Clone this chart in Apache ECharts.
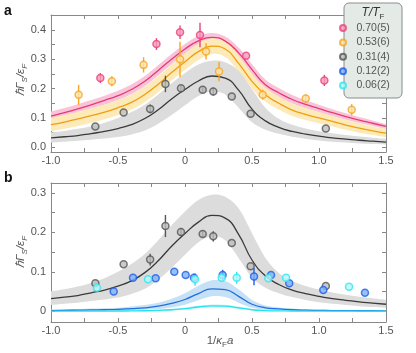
<!DOCTYPE html>
<html lang="en">
<head>
<meta charset="UTF-8">
<title>Gamma_S vs 1/kFa</title>
<style>
  html, body { margin: 0; padding: 0; background: #fff; }
  #chart { width: 416px; height: 353px; }
</style>
</head>
<body>
<div id="chart"></div>
<script src="https://cdn.jsdelivr.net/npm/echarts/dist/echarts.min.js"></script>
<script>
// ---------------- data ----------------
var curveX = [-1.0, -0.9, -0.8, -0.7, -0.6, -0.5, -0.4, -0.3, -0.2, -0.1, 0.0, 0.1, 0.2,
              0.3, 0.4, 0.5, 0.6, 0.7, 0.8, 0.9, 1.0, 1.1, 1.2, 1.3, 1.4, 1.5];

// theory curves + bands (T/TF = 0.70, 0.53, 0.31, 0.12, 0.06)
var pinkLine = [0.106, 0.118, 0.131, 0.145, 0.160, 0.176, 0.197, 0.225, 0.262, 0.300, 0.335, 0.363, 0.375,
                0.362, 0.322, 0.265, 0.213, 0.186, 0.163, 0.146, 0.132, 0.118, 0.105, 0.093, 0.082, 0.071];
var pinkHi   = [0.122, 0.134, 0.147, 0.161, 0.176, 0.193, 0.214, 0.243, 0.280, 0.318, 0.352, 0.379, 0.390,
                0.378, 0.340, 0.283, 0.231, 0.202, 0.178, 0.160, 0.145, 0.130, 0.116, 0.103, 0.091, 0.079];
var pinkLo   = [0.092, 0.104, 0.116, 0.130, 0.145, 0.160, 0.181, 0.208, 0.245, 0.283, 0.319, 0.348, 0.360,
                0.347, 0.306, 0.248, 0.197, 0.171, 0.149, 0.133, 0.119, 0.106, 0.094, 0.083, 0.073, 0.063];

var orangeLine = [0.077, 0.086, 0.097, 0.108, 0.120, 0.135, 0.153, 0.180, 0.215, 0.255, 0.292, 0.326, 0.345,
                  0.335, 0.286, 0.225, 0.179, 0.150, 0.127, 0.112, 0.100, 0.088, 0.076, 0.065, 0.056, 0.048];
var orangeHi   = [0.100, 0.110, 0.121, 0.133, 0.145, 0.160, 0.179, 0.206, 0.242, 0.282, 0.320, 0.354, 0.372,
                  0.362, 0.313, 0.251, 0.203, 0.173, 0.149, 0.133, 0.120, 0.107, 0.094, 0.082, 0.071, 0.062];
var orangeLo   = [0.055, 0.063, 0.073, 0.084, 0.096, 0.110, 0.128, 0.154, 0.188, 0.228, 0.264, 0.298, 0.318,
                  0.308, 0.259, 0.200, 0.156, 0.128, 0.107, 0.093, 0.082, 0.071, 0.060, 0.050, 0.042, 0.035];

var grayLine = [0.032, 0.036, 0.040, 0.047, 0.054, 0.064, 0.077, 0.098, 0.128, 0.165, 0.197, 0.226, 0.243,
                0.236, 0.195, 0.130, 0.090, 0.068, 0.054, 0.045, 0.038, 0.032, 0.028, 0.024, 0.021, 0.018];
var grayHi   = [0.051, 0.056, 0.063, 0.072, 0.084, 0.100, 0.120, 0.145, 0.180, 0.218, 0.253, 0.282, 0.295,
                0.290, 0.261, 0.198, 0.135, 0.097, 0.077, 0.064, 0.055, 0.048, 0.042, 0.037, 0.033, 0.029];
var grayLo   = [0.016, 0.019, 0.022, 0.026, 0.030, 0.035, 0.044, 0.057, 0.080, 0.110, 0.143, 0.175, 0.190,
                0.180, 0.135, 0.085, 0.060, 0.046, 0.036, 0.029, 0.023, 0.019, 0.016, 0.013, 0.011, 0.009];

var blueLine = [0.002, 0.0025, 0.003, 0.0035, 0.004, 0.005, 0.007, 0.009, 0.013, 0.020, 0.030, 0.045, 0.057,
                0.055, 0.038, 0.018, 0.009, 0.006, 0.004, 0.003, 0.0025, 0.002, 0.002, 0.0015, 0.0015, 0.001];
var blueHi   = [0.004, 0.005, 0.006, 0.007, 0.008, 0.009, 0.012, 0.016, 0.022, 0.032, 0.046, 0.065, 0.079,
                0.077, 0.056, 0.029, 0.015, 0.010, 0.007, 0.005, 0.004, 0.0035, 0.003, 0.003, 0.0025, 0.002];
var blueLo   = [0.0005, 0.0007, 0.0009, 0.0011, 0.0013, 0.002, 0.003, 0.004, 0.006, 0.010, 0.017, 0.028, 0.038,
                0.036, 0.022, 0.009, 0.004, 0.0025, 0.0015, 0.001, 0.0008, 0.0006, 0.0005, 0.0004, 0.0003, 0.0002];

var cyanLine = [0.0003, 0.0003, 0.0004, 0.0005, 0.0006, 0.0008, 0.001, 0.0015, 0.0025, 0.004, 0.007, 0.011, 0.014,
                0.013, 0.009, 0.004, 0.002, 0.0012, 0.0008, 0.0006, 0.0005, 0.0004, 0.0003, 0.0003, 0.0002, 0.0002];
var cyanHi   = [0.001, 0.001, 0.0012, 0.0014, 0.0016, 0.002, 0.0025, 0.003, 0.0045, 0.0065, 0.010, 0.0145, 0.0175,
                0.0165, 0.012, 0.006, 0.0035, 0.0022, 0.0016, 0.0013, 0.0011, 0.001, 0.0009, 0.0008, 0.0007, 0.0006];
var cyanLo   = [0, 0, 0, 0, 0, 0.0001, 0.0002, 0.0005, 0.0012, 0.0022, 0.0045, 0.0078, 0.0105,
                0.0097, 0.0063, 0.0025, 0.001, 0.0005, 0.0003, 0.0002, 0.0001, 0.0001, 0, 0, 0, 0];

// measured points
var pinkX   = [-0.632, -0.213, -0.037, 0.112, 0.456, 1.040];
var pinkY   = [0.236, 0.352, 0.392, 0.383, 0.312, 0.228];
var pinkErr = [0.017, 0.020, 0.023, 0.042, 0, 0.019];

var orangeX   = [-0.794, -0.546, -0.309, -0.037, 0.157, 0.254, 0.580, 0.901, 1.244];
var orangeY   = [0.179, 0.225, 0.281, 0.300, 0.327, 0.258, 0.179, 0.166, 0.128];
var orangeErr = [0.034, 0.017, 0.026, 0.060, 0.028, 0.033, 0.017, 0.014, 0.019];

var grayX   = [-0.669, -0.458, -0.260, -0.146, -0.030, 0.132, 0.211, 0.349, 0.490, 1.051];
var grayY   = [0.071, 0.119, 0.131, 0.216, 0.201, 0.196, 0.190, 0.173, 0.114, 0.064];
var grayErr = [0, 0, 0.015, 0.028, 0.010, 0.008, 0.013, 0, 0, 0];

var blueX   = [-0.532, -0.388, -0.219, -0.080, 0.005, 0.067, 0.281, 0.515, 0.642, 0.778, 1.032, 1.343];
var blueY   = [0.050, 0.085, 0.084, 0.100, 0.092, 0.085, 0.092, 0.088, 0.092, 0.071, 0.054, 0.047];
var blueErr = [0, 0, 0, 0, 0, 0.010, 0.013, 0.022, 0, 0, 0, 0];

var cyanX   = [-0.657, -0.276, 0.075, 0.274, 0.386, 0.622, 0.754, 1.224];
var cyanY   = [0.060, 0.081, 0.081, 0.085, 0.085, 0.084, 0.085, 0.062];
var cyanErr = [0, 0, 0.016, 0, 0.015, 0, 0, 0];

// ticks / labels
var xTicks   = [-1, -0.75, -0.5, -0.25, 0, 0.25, 0.5, 0.75, 1, 1.25, 1.5];
var xLabels  = [-1, -0.5, 0, 0.5, 1, 1.5];
var aYTicks  = [0, 0.05, 0.1, 0.15, 0.2, 0.25, 0.3, 0.35, 0.4, 0.45];
var aYLabels = [0, 0.1, 0.2, 0.3, 0.4];
var bYTicks  = [0, 0.05, 0.1, 0.15, 0.2, 0.25, 0.3];
var bYLabels = [0, 0.1, 0.2, 0.3];
var legendNames = ['0.70(5)', '0.53(6)', '0.31(4)', '0.12(2)', '0.06(2)'];

// ---------------- chart ----------------
var FONT = '"Liberation Sans", Arial, sans-serif';
var chart = echarts.init(document.getElementById('chart'));

function pairs(xs, ys) {
    return xs.map(function (x, i) { return [x, ys[i]]; });
}

// catmull-rom -> bezier through pixel points
function bez(pts) {
    var d = '';
    for (var i = 0; i < pts.length - 1; i++) {
        var p0 = pts[Math.max(i - 1, 0)], p1 = pts[i], p2 = pts[i + 1], p3 = pts[Math.min(i + 2, pts.length - 1)];
        d += ' C' + (p1[0] + (p2[0] - p0[0]) / 6) + ' ' + (p1[1] + (p2[1] - p0[1]) / 6) + ' ' +
             (p2[0] - (p3[0] - p1[0]) / 6) + ' ' + (p2[1] - (p3[1] - p1[1]) / 6) + ' ' + p2[0] + ' ' + p2[1];
    }
    return d;
}

function band(lo, hi, color, idx) {
    return {
        type: 'custom', xAxisIndex: idx * 2, yAxisIndex: idx * 2, z: 1, silent: true, clip: true,
        data: [[curveX[0], lo[0]]], encode: { x: 0, y: 1 },
        renderItem: function (params, api) {
            var top = curveX.map(function (x, i) { return api.coord([x, hi[i]]); });
            var bot = curveX.map(function (x, i) { return api.coord([x, lo[i]]); }).reverse();
            var d = 'M' + top[0][0] + ' ' + top[0][1] + bez(top) +
                    ' L' + bot[0][0] + ' ' + bot[0][1] + bez(bot) + ' Z';
            return { type: 'path', shape: { pathData: d }, style: { fill: color } };
        }
    };
}

function curve(ys, color, idx) {
    return {
        type: 'line', xAxisIndex: idx * 2, yAxisIndex: idx * 2, z: 3, silent: true,
        data: pairs(curveX, ys), smooth: true, symbol: 'none',
        lineStyle: { color: color, width: 1.3 }
    };
}

function errBars(xs, ys, es, color, idx) {
    return {
        type: 'custom', xAxisIndex: idx * 2, yAxisIndex: idx * 2, z: 4, silent: true,
        data: xs.map(function (x, i) { return [x, ys[i], es[i]]; }), encode: { x: 0, y: 1 },
        renderItem: function (params, api) {
            var e = api.value(2);
            if (!e) return null;
            var p1 = api.coord([api.value(0), api.value(1) - e]);
            var p2 = api.coord([api.value(0), api.value(1) + e]);
            return { type: 'line', shape: { x1: p1[0], y1: p1[1], x2: p2[0], y2: p2[1] },
                     style: { stroke: color, lineWidth: 1.4 } };
        }
    };
}

function points(name, xs, ys, fill, stroke, idx) {
    return {
        name: name, type: 'scatter', xAxisIndex: idx * 2, yAxisIndex: idx * 2, z: 5, silent: true,
        data: pairs(xs, ys), symbol: 'circle', symbolSize: 7,
        itemStyle: { color: fill, borderColor: stroke, borderWidth: 1.5 }
    };
}

var axisLine = { onZero: false, lineStyle: { color: '#888', width: 1 } };
var tickStyle = { lineStyle: { color: '#888', width: 1 } };
var labelStyle = { color: '#555', fontSize: 11, fontFamily: FONT };

function xAxes(grid) {
    return [{
        gridIndex: grid, type: 'value', position: 'bottom', min: -1, max: 1.5,
        axisLine: axisLine, splitLine: { show: false },
        axisTick: Object.assign({ inside: true, length: 4, customValues: xTicks }, tickStyle),
        axisLabel: Object.assign({ margin: 3, customValues: xLabels,
            formatter: function (v) { return v === 0 ? '0' : v.toFixed(1); } }, labelStyle)
    }, {
        gridIndex: grid, type: 'value', position: 'top', min: -1, max: 1.5,
        axisLine: axisLine, splitLine: { show: false },
        axisTick: Object.assign({ inside: true, length: 4, customValues: xTicks }, tickStyle),
        axisLabel: { show: false }
    }];
}

function yAxes(grid, min, max, ticks, labels, zeroText) {
    return [{
        gridIndex: grid, type: 'value', position: 'left', min: min, max: max,
        axisLine: axisLine, splitLine: { show: false },
        axisTick: Object.assign({ inside: true, length: 4, customValues: ticks }, tickStyle),
        axisLabel: Object.assign({ margin: 5, customValues: labels,
            formatter: function (v) { return v === 0 ? zeroText : v.toFixed(1); } }, labelStyle)
    }, {
        gridIndex: grid, type: 'value', position: 'right', min: min, max: max,
        axisLine: axisLine, splitLine: { show: false },
        axisTick: Object.assign({ inside: true, length: 4, customValues: ticks }, tickStyle),
        axisLabel: { show: false }
    }];
}

var yTitleRich = {
    i: { fontSize: 11.5, fontStyle: 'italic', fontFamily: FONT, fill: '#555', lineHeight: 15, verticalAlign: 'middle' },
    s: { fontSize: 8, fontStyle: 'italic', fontFamily: FONT, fill: '#555', lineHeight: 15, verticalAlign: 'bottom' }
};

option = {
    animation: false,
    backgroundColor: '#fff',
    grid: [
        { left: 51, right: 30, top: 15, height: 137 },
        { left: 51, right: 30, top: 183, height: 139 }
    ],
    xAxis: xAxes(0).concat(xAxes(1)),
    yAxis: yAxes(0, -0.016, 0.451, aYTicks, aYLabels, '0.0').concat(yAxes(1, -0.027, 0.325, bYTicks, bYLabels, '0')),
    legend: {
        orient: 'vertical', left: 339, top: 22, itemWidth: 17, itemHeight: 6, itemGap: 2.4,
        icon: 'circle', selectedMode: false, z: 12, padding: 0,
        textStyle: { fontSize: 10.5, color: '#555', fontFamily: FONT, lineHeight: 12 },
        data: legendNames
    },
    graphic: [
        { type: 'text', x: 4, y: 4, style: { text: 'a', font: 'bold 14px ' + FONT, fill: '#111' } },
        { type: 'text', x: 4, y: 171, style: { text: 'b', font: 'bold 14px ' + FONT, fill: '#111' } },
        { type: 'text', x: 21, y: 80, rotation: Math.PI / 2,
          style: { text: '{i|ℏΓ}{s|S}{i|/ε}{s|F}', rich: yTitleRich, align: 'center', verticalAlign: 'middle' } },
        { type: 'text', x: 21, y: 252, rotation: Math.PI / 2,
          style: { text: '{i|ℏΓ}{s|S}{i|/ε}{s|F}', rich: yTitleRich, align: 'center', verticalAlign: 'middle' } },
        { type: 'text', x: 220, y: 341,
          style: { text: '{n|1/}{i|κ}{s|F}{i|a}', align: 'center', verticalAlign: 'middle',
                   rich: {
                       n: { fontSize: 11.5, fontFamily: FONT, fill: '#555', lineHeight: 15, verticalAlign: 'middle' },
                       i: { fontSize: 11.5, fontStyle: 'italic', fontFamily: FONT, fill: '#555', lineHeight: 15, verticalAlign: 'middle' },
                       s: { fontSize: 8, fontFamily: FONT, fill: '#555', lineHeight: 15, verticalAlign: 'bottom' }
                   } } },
        { type: 'rect', z: 10, shape: { x: 344, y: 3, width: 58, height: 95, r: 5 },
          style: { fill: '#e4ebe6', stroke: '#8c8c8c', lineWidth: 1 } },
        { type: 'text', z: 11, x: 373, y: 13,
          style: { text: '{i|T/T}{s|F}', align: 'center', verticalAlign: 'middle',
                   rich: {
                       i: { fontSize: 12, fontStyle: 'italic', fontFamily: FONT, fill: '#333', lineHeight: 15, verticalAlign: 'middle' },
                       s: { fontSize: 8, fontFamily: FONT, fill: '#333', lineHeight: 15, verticalAlign: 'bottom' }
                   } } }
    ],
    series: [
        // panel a
        band(pinkLo, pinkHi, '#f9c4d9', 0),
        band(orangeLo, orangeHi, '#fcebb8', 0),
        band(grayLo, grayHi, '#dcdcdc', 0),
        curve(pinkLine, '#e83a72', 0),
        curve(orangeLine, '#f39c12', 0),
        curve(grayLine, '#3a3a3a', 0),
        errBars(pinkX, pinkY, pinkErr, '#e8457a', 0),
        errBars(orangeX, orangeY, orangeErr, '#f5a623', 0),
        errBars(grayX, grayY, grayErr, '#555', 0),
        points('0.70(5)', pinkX, pinkY, '#f59bbd', '#e8457a', 0),
        points('0.53(6)', orangeX, orangeY, '#fde3b0', '#f5a623', 0),
        points('0.31(4)', grayX, grayY, '#bdbdbd', '#555', 0),
        // panel b
        band(grayLo, grayHi, '#dcdcdc', 1),
        band(blueLo, blueHi, '#c6e0f6', 1),
        band(cyanLo, cyanHi, '#c9f4f8', 1),
        curve(grayLine, '#3a3a3a', 1),
        curve(blueLine, '#1f6fe0', 1),
        curve(cyanLine, '#22e3ee', 1),
        errBars(grayX, grayY, grayErr, '#555', 1),
        errBars(blueX, blueY, blueErr, '#1d5fe6', 1),
        errBars(cyanX, cyanY, cyanErr, '#2ee6f0', 1),
        points('0.31(4)', grayX, grayY, '#bdbdbd', '#555', 1),
        points('0.12(2)', blueX, blueY, '#7fb0f7', '#1d5fe6', 1),
        points('0.06(2)', cyanX, cyanY, '#b8f7fa', '#2ee6f0', 1)
    ]
};

chart.setOption(option, true);
</script>
</body>
</html>
